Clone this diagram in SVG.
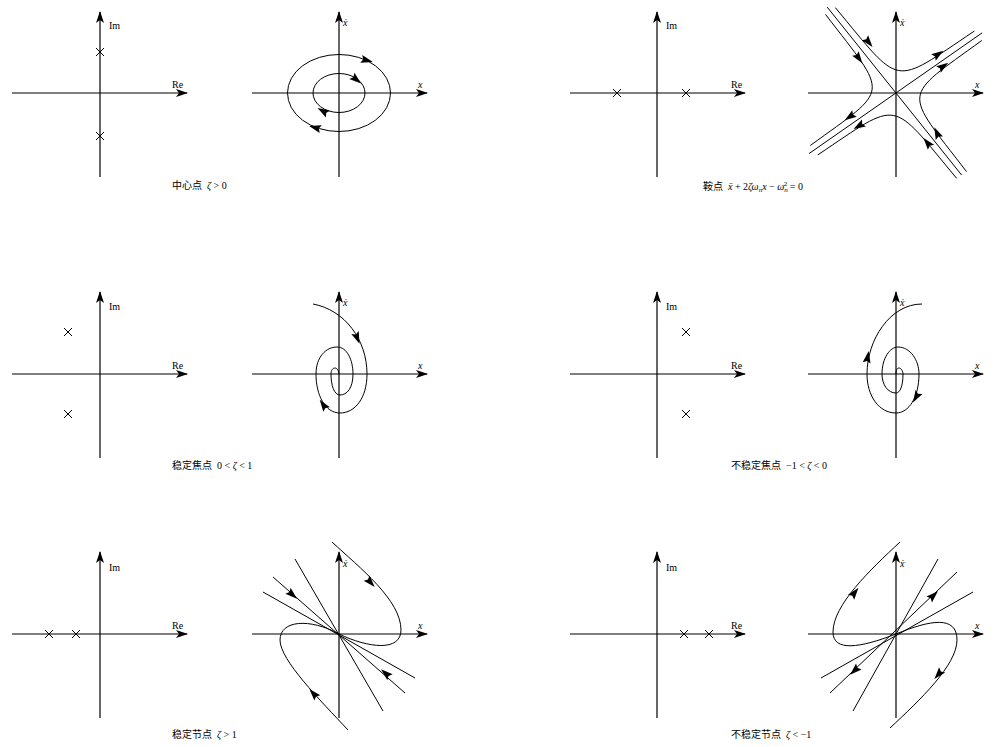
<svg xmlns="http://www.w3.org/2000/svg" xmlns:xlink="http://www.w3.org/1999/xlink" width="1005" height="747" viewBox="0 0 1005 747">
<style>
.ax{stroke:#000;stroke-width:1.2;fill:none;marker-end:url(#ar)}
.c{stroke:#000;stroke-width:1;fill:none}
.t{font-family:"Liberation Serif","Noto Sans CJK SC",serif;font-size:10px;fill:#000}
.i{font-style:italic}
.cap{font-family:"Liberation Serif","Noto Sans CJK SC",serif;font-size:10px;fill:#000;white-space:pre}
</style>
<defs>
<marker id="ar" markerWidth="12" markerHeight="8" refX="11" refY="4" orient="auto" markerUnits="userSpaceOnUse"><path d="M0,0 L12,4 L0,8 L3,4 Z" fill="#000"/></marker>
<path id="ah" d="M4,0 L-8,-4 L-6,0 L-8,4 Z" fill="#000"/>
<path id="xx" d="M-4,-4 L4,4 M-4,4 L4,-4" stroke="#000" stroke-width="1" fill="none"/>
</defs>
<g id="axes">
<path class="ax" d="M12,93 H187"/><path class="ax" d="M100,177 V12"/>
<path class="ax" d="M252,93 H427"/><path class="ax" d="M339,177 V12"/>
<path class="ax" d="M570,93 H745"/><path class="ax" d="M657,177 V12"/>
<path class="ax" d="M808,93 H983"/><path class="ax" d="M896,177 V12"/>
<path class="ax" d="M12,374 H187"/><path class="ax" d="M100,458 V292"/>
<path class="ax" d="M252,374 H427"/><path class="ax" d="M339,458 V292"/>
<path class="ax" d="M570,374 H745"/><path class="ax" d="M657,458 V292"/>
<path class="ax" d="M808,374 H983"/><path class="ax" d="M896,458 V292"/>
<path class="ax" d="M12,634 H187"/><path class="ax" d="M100,718 V552"/>
<path class="ax" d="M252,634 H427"/><path class="ax" d="M339,718 V552"/>
<path class="ax" d="M570,634 H745"/><path class="ax" d="M657,718 V552"/>
<path class="ax" d="M808,634 H983"/><path class="ax" d="M896,718 V552"/>
</g>
<g id="labels">
<text class="t" x="109" y="29">Im</text><text class="t" x="172" y="88">Re</text>
<text class="t i" x="343" y="26">ẋ</text><text class="t i" x="418" y="88">x</text>
<text class="t" x="666" y="29">Im</text><text class="t" x="731" y="88">Re</text>
<text class="t i" x="900" y="26">ẋ</text><text class="t i" x="975" y="88">x</text>
<text class="t" x="109" y="310">Im</text><text class="t" x="172" y="369">Re</text>
<text class="t i" x="343" y="306">ẋ</text><text class="t i" x="418" y="369">x</text>
<text class="t" x="666" y="310">Im</text><text class="t" x="731" y="369">Re</text>
<text class="t i" x="900" y="306">ẋ</text><text class="t i" x="975" y="369">x</text>
<text class="t" x="109" y="571">Im</text><text class="t" x="172" y="629">Re</text>
<text class="t i" x="343" y="567">ẋ</text><text class="t i" x="418" y="629">x</text>
<text class="t" x="666" y="571">Im</text><text class="t" x="731" y="629">Re</text>
<text class="t i" x="900" y="567">ẋ</text><text class="t i" x="975" y="629">x</text>
</g>
<g id="poles">
<use xlink:href="#xx" x="100" y="52"/><use xlink:href="#xx" x="100" y="136"/>
<use xlink:href="#xx" x="617" y="93"/><use xlink:href="#xx" x="686" y="93"/>
<use xlink:href="#xx" x="68" y="332"/><use xlink:href="#xx" x="68" y="414"/>
<use xlink:href="#xx" x="686" y="332"/><use xlink:href="#xx" x="686" y="414"/>
<use xlink:href="#xx" x="49" y="634"/><use xlink:href="#xx" x="76" y="634"/>
<use xlink:href="#xx" x="684" y="634"/><use xlink:href="#xx" x="709" y="634"/>
</g>
<g id="center">
<ellipse class="c" cx="339" cy="93" rx="51.5" ry="38.5"/>
<ellipse class="c" cx="339" cy="93" rx="26" ry="19.5"/>
<use xlink:href="#ah" transform="translate(369,61) rotate(15)"/>
<use xlink:href="#ah" transform="translate(313,127) rotate(195)"/>
<use xlink:href="#ah" transform="translate(358,81) rotate(40)"/>
<use xlink:href="#ah" transform="translate(321,110) rotate(210)"/>
</g>
<g id="saddle">
<path class="c" d="M827.2,7.1 L961.6,175"/>
<path class="c" d="M809,153.6 L982.1,32.9"/>
<path class="c" d="M835.3,7.6 C902.6,88.4 891,86.8 974.3,31.1"/>
<path class="c" d="M966.5,171.6 C902.6,88.4 901,99.2 981.8,40.5"/>
<path class="c" d="M825.5,14.4 C889.4,97.6 891,86.8 810.3,145.5"/>
<path class="c" d="M956.7,178.4 C889.4,97.6 901,99.2 817.8,154.9"/>
<use xlink:href="#ah" transform="translate(870,44) rotate(51.3)"/>
<use xlink:href="#ah" transform="translate(940,53) rotate(-34.9)"/>
<use xlink:href="#ah" transform="translate(860,60) rotate(55)"/>
<use xlink:href="#ah" transform="translate(848,118) rotate(145.1)"/>
<use xlink:href="#ah" transform="translate(926,141) rotate(-128.7)"/>
<use xlink:href="#ah" transform="translate(857,127) rotate(150)"/>
<use xlink:href="#ah" transform="translate(936,131) rotate(-115)"/>
<use xlink:href="#ah" transform="translate(945,65) rotate(-34.9)"/>
</g>
<g id="stable-focus">
<path class="c" d="M313,304 C345,310 367,340 367,374 C367,398 355,413 340,413 C325,413 316,395 316,374 C316,357 326,347 337,347 C347,347 353,360 353,374 C353,388 347,395 340,395 C334,395 331,385 331,374 C331,370 333,368 335,368 C337,368 339,371 339,374"/>
<use xlink:href="#ah" transform="translate(358,340) rotate(68)"/>
<use xlink:href="#ah" transform="translate(322,403) rotate(-125)"/>
</g>
<g id="unstable-focus">
<path class="c" d="M896,374 C896,370 897,368 899,368 C901,368 903,371 903,374 C903,386 900,393 896,393 C888,393 882,385 882,374 C882,358 890,347 898,347 C910,347 919,360 919,374 C919,397 909,413 896,413 C879,413 867,396 867,374 C867,340 890,304 922,304"/>
<use xlink:href="#ah" transform="translate(868,355) rotate(-80)"/>
<use xlink:href="#ah" transform="translate(915,399) rotate(120)"/>
</g>
<g id="stable-node">
<path class="c" d="M295,559 L383,711"/>
<path class="c" d="M273,577 L405,693"/>
<path class="c" d="M263,592 L415,678"/>
<path class="c" d="M332,542 C360,568 401,600 401,630 C401,652 368,648 339,634"/>
<path class="c" d="M348,730 C320,700 280,660 280,640 C280,620 310,618 339,634"/>
<use xlink:href="#ah" transform="translate(294,596) rotate(41.3)"/>
<use xlink:href="#ah" transform="translate(384,672) rotate(-138.7)"/>
<use xlink:href="#ah" transform="translate(372,584) rotate(48)"/>
<use xlink:href="#ah" transform="translate(312,692) rotate(-132)"/>
</g>
<g id="unstable-node">
<path class="c" d="M938,559 L853,711"/>
<path class="c" d="M957,572 L830,693"/>
<path class="c" d="M973,592 L821,678"/>
<path class="c" d="M896,634 C860,648 833,652 833,632 C833,605 870,570 900,542"/>
<path class="c" d="M896,634 C930,620 957,615 957,640 C957,665 920,700 890,728"/>
<use xlink:href="#ah" transform="translate(935,594) rotate(-43.6)"/>
<use xlink:href="#ah" transform="translate(853,672) rotate(136.4)"/>
<use xlink:href="#ah" transform="translate(856,591) rotate(-52)"/>
<use xlink:href="#ah" transform="translate(937,676) rotate(130)"/>
</g>
<g id="captions">
<text class="cap" x="172" y="189">中心点  <tspan class="i">ζ</tspan> &gt; 0</text>
<text class="cap" x="703" y="190">鞍点  <tspan class="i">ẍ</tspan> + 2<tspan class="i">ζω</tspan><tspan class="i" font-size="7" dy="2">n</tspan><tspan class="i" dy="-2">x</tspan> − <tspan class="i">ω</tspan><tspan font-size="7" class="i" dy="2">n</tspan><tspan font-size="7" dx="-4" dy="-6">2</tspan><tspan dy="4"> = 0</tspan></text>
<text class="cap" x="172" y="469">稳定焦点  0 &lt; <tspan class="i">ζ</tspan> &lt; 1</text>
<text class="cap" x="731" y="469">不稳定焦点  −1 &lt; <tspan class="i">ζ</tspan> &lt; 0</text>
<text class="cap" x="172" y="738">稳定节点  <tspan class="i">ζ</tspan> &gt; 1</text>
<text class="cap" x="731" y="738">不稳定节点  <tspan class="i">ζ</tspan> &lt; −1</text>
</g>
</svg>
